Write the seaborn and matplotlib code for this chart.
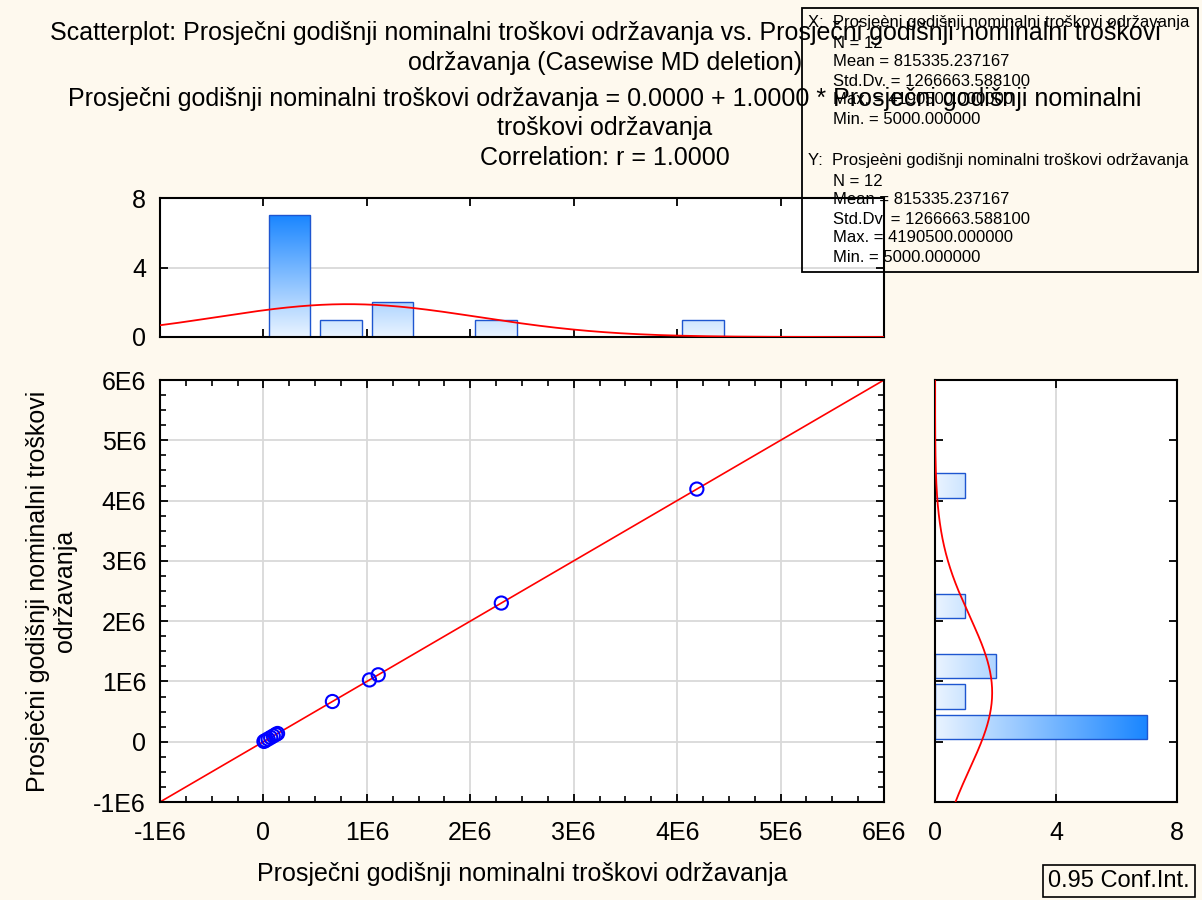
import numpy as np
import pandas as pd
import matplotlib
matplotlib.use("Agg")
import matplotlib.pyplot as plt
from matplotlib.colors import LinearSegmentedColormap
from matplotlib.patches import Rectangle
from matplotlib.ticker import MultipleLocator
import seaborn as sns

# data (12 cases, same variable on both axes)
troskovi = [5000, 20000, 45000, 70000, 95000, 120000, 136500,
            667000, 1025000, 1110000, 2300000, 4190500]
main_ticks = [-1e6, 0, 1e6, 2e6, 3e6, 4e6, 5e6, 6e6]
main_labels = ["-1E6", "0", "1E6", "2E6", "3E6", "4E6", "5E6", "6E6"]
hist_ticks = [0, 4, 8]
bin_width = 500000
reg_intercept = 0.0
reg_slope = 1.0

var_name = "Prosječni godišnji nominalni troškovi održavanja"
stats_x = ["X:  Prosjeèni godišnji nominalni troškovi održavanja",
           "N = 12", "Mean = 815335.237167", "Std.Dv. = 1266663.588100",
           "Max. = 4190500.000000", "Min. = 5000.000000"]
stats_y = ["Y:  Prosjeèni godišnji nominalni troškovi održavanja",
           "N = 12", "Mean = 815335.237167", "Std.Dv. = 1266663.588100",
           "Max. = 4190500.000000", "Min. = 5000.000000"]

df = pd.DataFrame({"x": troskovi, "y": troskovi})

sns.set_style("white")
plt.rcParams["font.family"] = ["Liberation Sans", "DejaVu Sans"]
plt.rcParams["text.color"] = "black"
plt.rcParams["axes.labelcolor"] = "black"
plt.rcParams["xtick.color"] = "black"
plt.rcParams["ytick.color"] = "black"
bg = "#FEF9EE"
grid_c = "#D9D9D9"
edge_c = "#1E56D0"
grad_cmap = LinearSegmentedColormap.from_list("g", ["#EAF4FF", "#1A86FF"])

W, H = 1202, 900
fig = plt.figure(figsize=(W / 100, H / 100), dpi=100, facecolor=bg)

def box(l, r, t, b):
    return [l / W, 1 - b / H, (r - l) / W, (b - t) / H]

ax = fig.add_axes(box(160, 884, 380, 802))
ax_top = fig.add_axes(box(160, 884, 198, 337))
ax_side = fig.add_axes(box(935, 1177, 380, 802))

lo, hi = main_ticks[0], main_ticks[-1]

# --- main scatter
ax.grid(True, color=grid_c, lw=1.3)
ax.set_axisbelow(True)
xs = np.array([lo, hi])
ax.plot(xs, reg_intercept + reg_slope * xs, color="red", lw=1.2, zorder=2)
sns.scatterplot(data=df, x="x", y="y", ax=ax, marker="o", s=90,
                linewidth=1.5, zorder=3, legend=False)
ax.collections[-1].set_facecolor("none")
ax.collections[-1].set_edgecolor("#0000FF")
ax.set_xlim(lo, hi)
ax.set_ylim(lo, hi)
ax.set_xticks(main_ticks, main_labels)
ax.set_yticks(main_ticks, main_labels)
ax.xaxis.set_minor_locator(MultipleLocator(250000))
ax.yaxis.set_minor_locator(MultipleLocator(250000))
ax.set_xlabel(var_name, fontsize=18, va="top")
ax.set_ylabel("Prosječni godišnji nominalni troškovi\nodržavanja", fontsize=18)
ax.xaxis.set_label_coords(0.5, -0.142)
ax.yaxis.set_label_coords(-0.114, 0.5)

# normal curve for the histograms
m = np.mean(troskovi)
sd = np.std(troskovi, ddof=1)
grid_v = np.linspace(lo, hi, 400)
dens = len(troskovi) * bin_width / (sd * np.sqrt(2 * np.pi)) * np.exp(-0.5 * ((grid_v - m) / sd) ** 2)
cmax = 7

def gradient_fill(a, horizontal=False):
    g = np.linspace(0, 1, 256)
    for p in list(a.patches):
        w, h = p.get_width(), p.get_height()
        if w == 0 or h == 0:
            p.set_visible(False)
            continue
        x0, y0 = p.get_x(), p.get_y()
        if horizontal:
            ext = [0, cmax, y0, y0 + h]
            img = g.reshape(1, -1)
        else:
            ext = [x0, x0 + w, 0, cmax]
            img = g.reshape(-1, 1)
        im = a.imshow(img, extent=ext, origin="lower", aspect="auto",
                      cmap=grad_cmap, zorder=p.get_zorder() - 0.01)
        im.set_clip_path(p)
        p.set_facecolor("none")

# --- top histogram
sns.histplot(x=troskovi, binwidth=bin_width, binrange=(0, 4.5e6), shrink=0.8,
             ax=ax_top, edgecolor=edge_c, linewidth=1.0, alpha=1)
gradient_fill(ax_top)
ax_top.plot(grid_v, dens, color="red", lw=1.3, zorder=4)
ax_top.set_xlim(lo, hi)
ax_top.set_ylim(0, 8)
ax_top.set_xticks(main_ticks)
ax_top.set_yticks(hist_ticks, [str(t) for t in hist_ticks])
ax_top.yaxis.grid(True, color=grid_c, lw=1.3)
ax_top.set_axisbelow(True)
ax_top.tick_params(labelbottom=False)
ax_top.set_xlabel("")
ax_top.set_ylabel("")

# --- side histogram
sns.histplot(y=troskovi, binwidth=bin_width, binrange=(0, 4.5e6), shrink=0.8,
             ax=ax_side, edgecolor=edge_c, linewidth=1.0, alpha=1)
gradient_fill(ax_side, horizontal=True)
ax_side.plot(dens, grid_v, color="red", lw=1.3, zorder=4)
ax_side.set_ylim(lo, hi)
ax_side.set_xlim(0, 8)
ax_side.set_yticks(main_ticks)
ax_side.set_xticks(hist_ticks, [str(t) for t in hist_ticks])
ax_side.xaxis.grid(True, color=grid_c, lw=1.3)
ax_side.set_axisbelow(True)
ax_side.tick_params(labelleft=False)
ax_side.set_xlabel("")
ax_side.set_ylabel("")

for a in (ax, ax_top, ax_side):
    a.set_facecolor("white")
    for s in a.spines.values():
        s.set_color("black")
        s.set_linewidth(1.5)
    a.tick_params(which="both", direction="in", top=True, right=True,
                  bottom=True, left=True, color="black", labelcolor="black",
                  labelsize=18)
    a.tick_params(axis="x", pad=14)
    a.tick_params(axis="y", pad=10)
    a.tick_params(which="major", length=6, width=1.3)
    a.tick_params(which="minor", length=4, width=1.2)

# --- titles
tx = 605 / W
title_lines = [
    ("Scatterplot: " + var_name + " vs. Prosječni godišnji nominalni troškovi", 33),
    ("održavanja (Casewise MD deletion)", 63),
    (var_name + " = 0.0000 + 1.0000 * Prosječni godišnji nominalni", 99),
    ("troškovi održavanja", 128),
    ("Correlation: r = 1.0000", 158),
]
for t, yy in title_lines:
    fig.text(tx, 1 - yy / H, t, ha="center", va="center", fontsize=18, zorder=20)

# --- stats box
fig.patches.append(Rectangle((802 / W, 1 - 272 / H), (1198 - 802) / W, (272 - 8) / H,
                             transform=fig.transFigure, fill=False, ec="black",
                             lw=1.3, zorder=15))
ys_x = [23, 43, 62, 81, 100, 119]
ys_y = [161, 182, 200, 219, 238, 258]
for lines, ys in ((stats_x, ys_x), (stats_y, ys_y)):
    for i, (t, yy) in enumerate(zip(lines, ys)):
        xx = 808 if i == 0 else 833
        fig.text(xx / W, 1 - yy / H, t, ha="left", va="center", fontsize=12, zorder=16)

fig.text(1119 / W, 1 - 881 / H, "0.95 Conf.Int.", ha="center", va="center", fontsize=17,
         bbox=dict(boxstyle="square,pad=0.2", fc="none", ec="black", lw=1.2))

fig.savefig("out.png", dpi=100, facecolor=bg)
